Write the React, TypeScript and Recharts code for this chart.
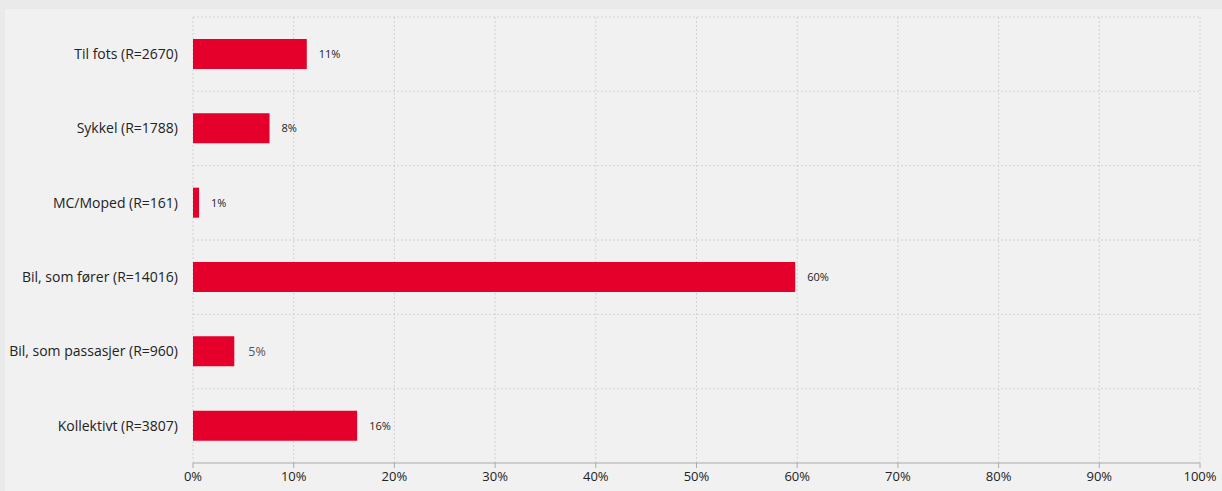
import React from "react";
import { BarChart, Bar, XAxis, YAxis, CartesianGrid, LabelList } from "recharts";

const categories = [
  "Til fots (R=2670)",
  "Sykkel (R=1788)",
  "MC/Moped (R=161)",
  "Bil, som fører (R=14016)",
  "Bil, som passasjer (R=960)",
  "Kollektivt (R=3807)",
];
const shares = [11.3, 7.6, 0.6, 59.8, 4.1, 16.3];
const shareLabels = ["11%", "8%", "1%", "60%", "5%", "16%"];
const xTicks = [0, 10, 20, 30, 40, 50, 60, 70, 80, 90, 100];

const data = categories.map((c, i) => ({ name: c, value: shares[i], label: shareLabels[i] }));

const FONT = "'Open Sans', 'Noto Sans', sans-serif";

const ValueLabel = (props: any) => {
  const { x, y, width, height, index } = props;
  const isSpecial = index === 4;
  return (
    <text
      x={x + width + (isSpecial ? 14 : 12)}
      y={y + height / 2}
      dy="0.35em"
      fontFamily={FONT}
      fontSize={isSpecial ? 12.5 : 11}
      fill={isSpecial ? "#555" : "#222"}
    >
      {shareLabels[index]}
    </text>
  );
};

export default function App() {
  return (
    <div style={{ position: "absolute", left: 0, top: 0, width: 1222, height: 491, background: "#eaeaea" }}>
      <div style={{ position: "absolute", left: 5, top: 9, right: 0, bottom: 0, background: "#f1f1f1" }} />
      <div style={{ position: "absolute", left: 0, top: 0 }}>
        <BarChart
          width={1222}
          height={491}
          data={data}
          layout="vertical"
          margin={{ top: 17, right: 22, left: 0, bottom: 0 }}
          barCategoryGap={0}
        >
          <CartesianGrid
            stroke="#d2d2d2"
            strokeDasharray="2 2"
            verticalCoordinatesGenerator={({ offset }: any) =>
              xTicks.map((t) => offset.left + (offset.width * t) / 100)
            }
            horizontalCoordinatesGenerator={({ offset }: any) =>
              categories.map((_, i) => offset.top + (offset.height * i) / categories.length)
            }
          />
          <XAxis
            type="number"
            domain={[0, 100]}
            ticks={xTicks}
            tickFormatter={(v: number) => `${v}%`}
            axisLine={{ stroke: "#aaaaaa" }}
            tickLine={{ stroke: "#aaaaaa" }}
            tickSize={5}
            tickMargin={4}
            height={28}
            interval={0}
            tick={{ fontFamily: FONT, fontSize: 13, fill: "#222" }}
          />
          <YAxis
            type="category"
            dataKey="name"
            width={193}
            axisLine={false}
            tickLine={false}
            tickSize={0}
            tickMargin={15}
            interval={0}
            tick={{ fontFamily: FONT, fontSize: 14, fill: "#222" }}
          />
          <Bar dataKey="value" fill="#e4002b" barSize={30} isAnimationActive={false}>
            <LabelList dataKey="label" content={<ValueLabel />} />
          </Bar>
        </BarChart>
      </div>
    </div>
  );
}
